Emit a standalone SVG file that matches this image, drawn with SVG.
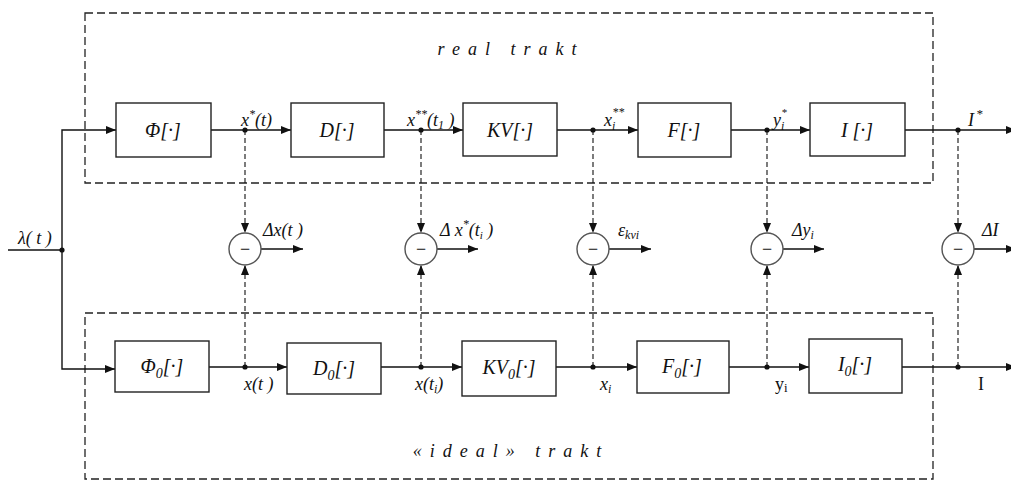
<svg xmlns="http://www.w3.org/2000/svg" width="1011" height="482" viewBox="0 0 1011 482">
  <style>
    .frame { fill: none; stroke: #222; stroke-width: 1.3; stroke-dasharray: 8 4; }
    .blk { fill: #fff; stroke: #222; stroke-width: 1.4; }
    .wire { fill: none; stroke: #111; stroke-width: 1.4; }
    .tap { fill: none; stroke: #111; stroke-width: 1.1; stroke-dasharray: 5 3; }
    .sum { fill: #fff; stroke: #555; stroke-width: 1.4; }
    .dot { fill: #111; }
    text { font-family: "Liberation Serif", "Times New Roman", serif; fill: #111; }
    .lbl { font-size: 20px; font-style: italic; text-anchor: middle; }
    .sig { font-size: 18px; font-style: italic; }
    .up { font-size: 18px; }
    .title { font-size: 18px; font-style: italic; letter-spacing: 8px; text-anchor: middle; }
  </style>
  <defs>
    <marker id="arr" markerWidth="11" markerHeight="9" refX="10" refY="4" orient="auto" markerUnits="userSpaceOnUse">
      <path d="M0,0 L10,4 L0,8 z" fill="#111"/>
    </marker>
  </defs>

  <rect width="1011" height="482" fill="#fff"/>

  <!-- dashed subsystem frames -->
  <g id="frames">
    <rect class="frame" x="85" y="13" width="848" height="170"/>
    <rect class="frame" x="85" y="313" width="848" height="166"/>
    <text class="title" x="511" y="55">real trakt</text>
    <text class="title" x="511" y="457">«ideal» trakt</text>
  </g>

  <!-- connectors -->
  <g id="connectors">
    <!-- input split -->
    <path class="wire" d="M8,250 H62"/>
    <path class="wire" d="M62,250 V130 H116" marker-end="url(#arr)"/>
    <path class="wire" d="M62,250 V369 H115" marker-end="url(#arr)"/>
    <!-- real chain -->
    <path class="wire" d="M211,130 H291" marker-end="url(#arr)"/>
    <path class="wire" d="M384,130 H463" marker-end="url(#arr)"/>
    <path class="wire" d="M557,130 H638" marker-end="url(#arr)"/>
    <path class="wire" d="M731,130 H810" marker-end="url(#arr)"/>
    <path class="wire" d="M905,130 H1016" marker-end="url(#arr)"/>
    <!-- ideal chain -->
    <path class="wire" d="M209,367 H287" marker-end="url(#arr)"/>
    <path class="wire" d="M381,367 H462" marker-end="url(#arr)"/>
    <path class="wire" d="M556,367 H637" marker-end="url(#arr)"/>
    <path class="wire" d="M729,367 H809" marker-end="url(#arr)"/>
    <path class="wire" d="M902,367 H1016" marker-end="url(#arr)"/>
    <!-- taps to comparators -->
    <path class="tap" d="M245,130 V233" marker-end="url(#arr)"/>
    <path class="tap" d="M245,367 V265" marker-end="url(#arr)"/>
    <path class="tap" d="M421,130 V233" marker-end="url(#arr)"/>
    <path class="tap" d="M421,367 V265" marker-end="url(#arr)"/>
    <path class="tap" d="M593,130 V233" marker-end="url(#arr)"/>
    <path class="tap" d="M593,367 V265" marker-end="url(#arr)"/>
    <path class="tap" d="M767,130 V233" marker-end="url(#arr)"/>
    <path class="tap" d="M767,367 V265" marker-end="url(#arr)"/>
    <path class="tap" d="M958,130 V233" marker-end="url(#arr)"/>
    <path class="tap" d="M958,367 V265" marker-end="url(#arr)"/>
    <!-- comparator outputs -->
    <path class="wire" d="M261,249 H303" marker-end="url(#arr)"/>
    <path class="wire" d="M437,249 H478" marker-end="url(#arr)"/>
    <path class="wire" d="M609,249 H651" marker-end="url(#arr)"/>
    <path class="wire" d="M783,249 H824" marker-end="url(#arr)"/>
    <path class="wire" d="M974,249 H1016" marker-end="url(#arr)"/>
    <!-- junction dots -->
    <circle class="dot" cx="62" cy="250" r="2.6"/>
    <circle class="dot" cx="245" cy="130" r="2.6"/>
    <circle class="dot" cx="421" cy="130" r="2.6"/>
    <circle class="dot" cx="593" cy="130" r="2.6"/>
    <circle class="dot" cx="767" cy="130" r="2.6"/>
    <circle class="dot" cx="958" cy="130" r="2.6"/>
    <circle class="dot" cx="245" cy="367" r="2.6"/>
    <circle class="dot" cx="421" cy="367" r="2.6"/>
    <circle class="dot" cx="593" cy="367" r="2.6"/>
    <circle class="dot" cx="767" cy="367" r="2.6"/>
    <circle class="dot" cx="958" cy="367" r="2.6"/>
  </g>

  <!-- signal labels -->
  <g id="signals">
    <text class="sig" x="18" y="244">λ( t )</text>
    <text class="sig" x="241" y="126">x<tspan dy="-8" font-size="12">*</tspan><tspan dy="8">(t)</tspan></text>
    <text class="sig" x="407" y="126">x<tspan dy="-8" font-size="12">**</tspan><tspan dy="8">(t</tspan><tspan dy="3" font-size="12">1</tspan><tspan dy="-3"> )</tspan></text>
    <text class="sig" x="604" y="126">x<tspan dy="4" font-size="12">i</tspan><tspan dy="-14" dx="-3" font-size="12">**</tspan></text>
    <text class="sig" x="773" y="126">y<tspan dy="4" font-size="12">i</tspan><tspan dy="-14" dx="-3" font-size="11">*</tspan></text>
    <text class="sig" x="968" y="126">I<tspan dy="-8" dx="2" font-size="13">*</tspan></text>

    <text class="sig" x="244" y="390">x(t )</text>
    <text class="sig" x="415" y="390">x(t<tspan dy="3" font-size="12">i</tspan><tspan dy="-3">)</tspan></text>
    <text class="sig" x="600" y="390">x<tspan dy="3" font-size="12">i</tspan></text>
    <text class="up" x="775" y="390">y<tspan dy="2" font-size="13">i</tspan></text>
    <text class="up" x="978" y="390">I</text>

    <text class="sig" x="263" y="236">Δx(t )</text>
    <text class="sig" x="440" y="236">Δ x<tspan dy="-8" font-size="12">*</tspan><tspan dy="8">(t</tspan><tspan dy="3" font-size="11">i</tspan><tspan dy="-3"> )</tspan></text>
    <text class="sig" x="618" y="236">ε<tspan dy="3" font-size="12">kvi</tspan></text>
    <text class="sig" x="792" y="236">Δy<tspan dy="3" font-size="12">i</tspan></text>
    <text class="sig" x="982" y="236">ΔI</text>
  </g>

  <!-- comparators -->
  <g id="cmp1"><circle class="sum" cx="245" cy="249" r="16"/><text class="up" x="245" y="255" text-anchor="middle">−</text></g>
  <g id="cmp2"><circle class="sum" cx="421" cy="249" r="16"/><text class="up" x="421" y="255" text-anchor="middle">−</text></g>
  <g id="cmp3"><circle class="sum" cx="593" cy="249" r="16"/><text class="up" x="593" y="255" text-anchor="middle">−</text></g>
  <g id="cmp4"><circle class="sum" cx="767" cy="249" r="16"/><text class="up" x="767" y="255" text-anchor="middle">−</text></g>
  <g id="cmp5"><circle class="sum" cx="958" cy="249" r="16"/><text class="up" x="958" y="255" text-anchor="middle">−</text></g>

  <!-- real chain blocks -->
  <g id="phi"><rect class="blk" x="116" y="103" width="95" height="54"/><text class="lbl" x="163" y="137">Φ[·]</text></g>
  <g id="d"><rect class="blk" x="291" y="103" width="93" height="54"/><text class="lbl" x="337" y="137">D[·]</text></g>
  <g id="kv"><rect class="blk" x="463" y="103" width="94" height="53"/><text class="lbl" x="510" y="137">KV[·]</text></g>
  <g id="f"><rect class="blk" x="638" y="103" width="93" height="54"/><text class="lbl" x="684" y="137">F[·]</text></g>
  <g id="i"><rect class="blk" x="810" y="103" width="95" height="53"/><text class="lbl" x="857" y="137">I [·]</text></g>

  <!-- ideal chain blocks -->
  <g id="phi0"><rect class="blk" x="115" y="341" width="94" height="51"/><text class="lbl" x="162" y="373">Φ<tspan dy="5" font-size="14">0</tspan><tspan dy="-5">[·]</tspan></text></g>
  <g id="d0"><rect class="blk" x="287" y="343" width="94" height="51"/><text class="lbl" x="334" y="375">D<tspan dy="5" font-size="14">0</tspan><tspan dy="-5">[·]</tspan></text></g>
  <g id="kv0"><rect class="blk" x="462" y="341" width="94" height="55"/><text class="lbl" x="509" y="374">KV<tspan dy="5" font-size="14">0</tspan><tspan dy="-5">[·]</tspan></text></g>
  <g id="f0"><rect class="blk" x="637" y="341" width="92" height="52"/><text class="lbl" x="682" y="373">F<tspan dy="5" font-size="14">0</tspan><tspan dy="-5">[·]</tspan></text></g>
  <g id="i0"><rect class="blk" x="809" y="339" width="93" height="54"/><text class="lbl" x="855" y="371">I<tspan dy="5" font-size="14">0</tspan><tspan dy="-5">[·]</tspan></text></g>
</svg>
